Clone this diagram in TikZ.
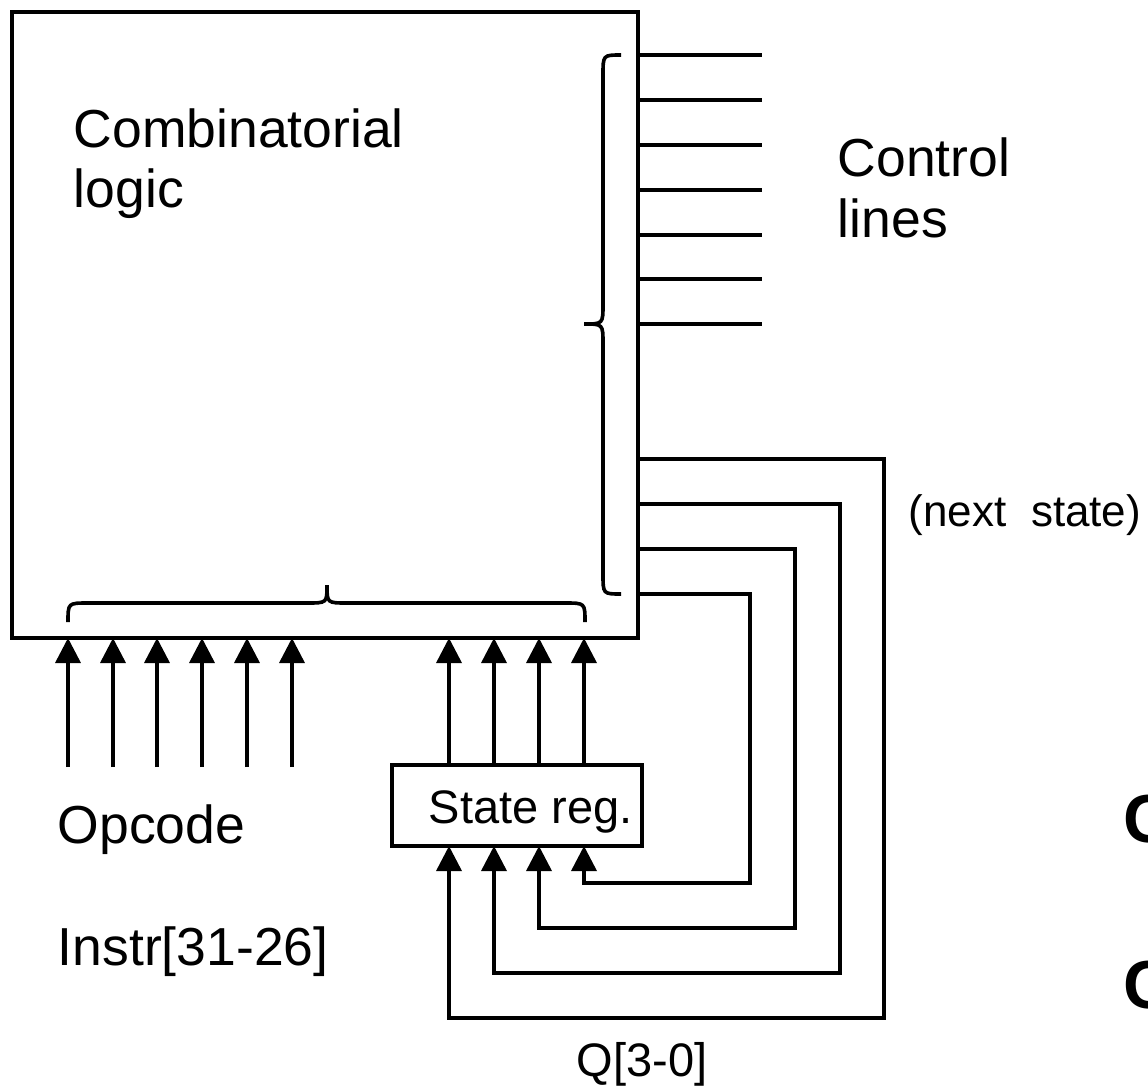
\documentclass[tikz,border=0pt]{standalone}
\usepackage{fontspec}
\setmainfont{Liberation Sans}
\usetikzlibrary{arrows.meta}
\begin{document}
\begin{tikzpicture}[x=1pt,y=-1pt,line width=3.6pt,
  inarrow/.style={-{Triangle[length=25pt,width=25pt]}},
  lbl/.style={anchor=base west,inner sep=0pt,font=\fontsize{53.5}{64}\selectfont},
  lblsmall/.style={anchor=base west,inner sep=0pt,font=\fontsize{47}{56}\selectfont},
  cutlbl/.style={anchor=base west,inner sep=0pt,font=\bfseries\fontsize{68}{80}\selectfont},
  block/.style={draw,line width=3.6pt,inner sep=0pt,outer sep=0pt}]
\path[use as bounding box] (0,0) rectangle (1148,1090);
\begin{scope}
\clip (0,0) rectangle (1148,1090);

% main block
\node[block,minimum width=626pt,minimum height=626pt] (comb) at (325,325) {};
\node[lbl] (combA) at (72,147) {Combinatorial};
\node[lbl] (combB) at (72,207) {logic};

% control lines
\foreach \yy in {55,100,145,190,235,279,324}{
  \draw (comb.east |- 0,\yy) -- (762,\yy);
}
\node[lbl] (ctlA) at (836,176) {Control};
\node[lbl] (ctlB) at (836,237) {lines};

% right brace
\draw (621,55) .. controls (603,55) .. (603,75) -- (603,304)
  .. controls (603,324) .. (584,324) .. controls (603,324) .. (603,344)
  -- (603,574) .. controls (603,594) .. (621,594);

% bottom brace
\draw (68,622) .. controls (68,603) .. (88,603) -- (307,603)
  .. controls (327,603) .. (327,585) .. controls (327,603) .. (347,603)
  -- (565,603) .. controls (585,603) .. (585,622);

% opcode inputs
\foreach \xx in {68,113,157,202,247,292}{
  \coordinate (op\xx) at (\xx,767);
  \draw[inarrow] (op\xx) -- (op\xx |- comb.south);
}
\node[lbl] (opc) at (56,843) {Opcode};
\node[lbl] (instr) at (56,965) {Instr[31-26]};

% state register
\node[block,minimum width=250pt,minimum height=81pt] (sreg) at (517,805.5) {};
\node[lblsmall] (sregl) at (427,823) {State reg.};
\foreach \xx in {449,494,539,584}{
  \draw[inarrow] (\xx,0 |- sreg.north) -- (\xx,0 |- comb.south);
}

% feedback loops (next state)
\draw[inarrow] (comb.east |- 0,459) -- (884,459) -- (884,1018) -- (449,1018) -- (449,0 |- sreg.south);
\draw[inarrow] (comb.east |- 0,504) -- (840,504) -- (840,973) -- (494,973) -- (494,0 |- sreg.south);
\draw[inarrow] (comb.east |- 0,549) -- (795,549) -- (795,928) -- (539,928) -- (539,0 |- sreg.south);
\draw[inarrow] (comb.east |- 0,594) -- (750,594) -- (750,883) -- (584,883) -- (584,0 |- sreg.south);

\node[anchor=base west,inner sep=0pt,font=\fontsize{44}{52}\selectfont] (nxt) at (907,526) {(next\ \ state)};
\node[lblsmall] (q) at (575,1076) {Q[3-0]};

% labels cut off at the right edge, as in the reference
\node[cutlbl] (cutA) at (1122,842) {C};
\node[cutlbl] (cutB) at (1122,1008) {C};
\end{scope}
\end{tikzpicture}
\end{document}
